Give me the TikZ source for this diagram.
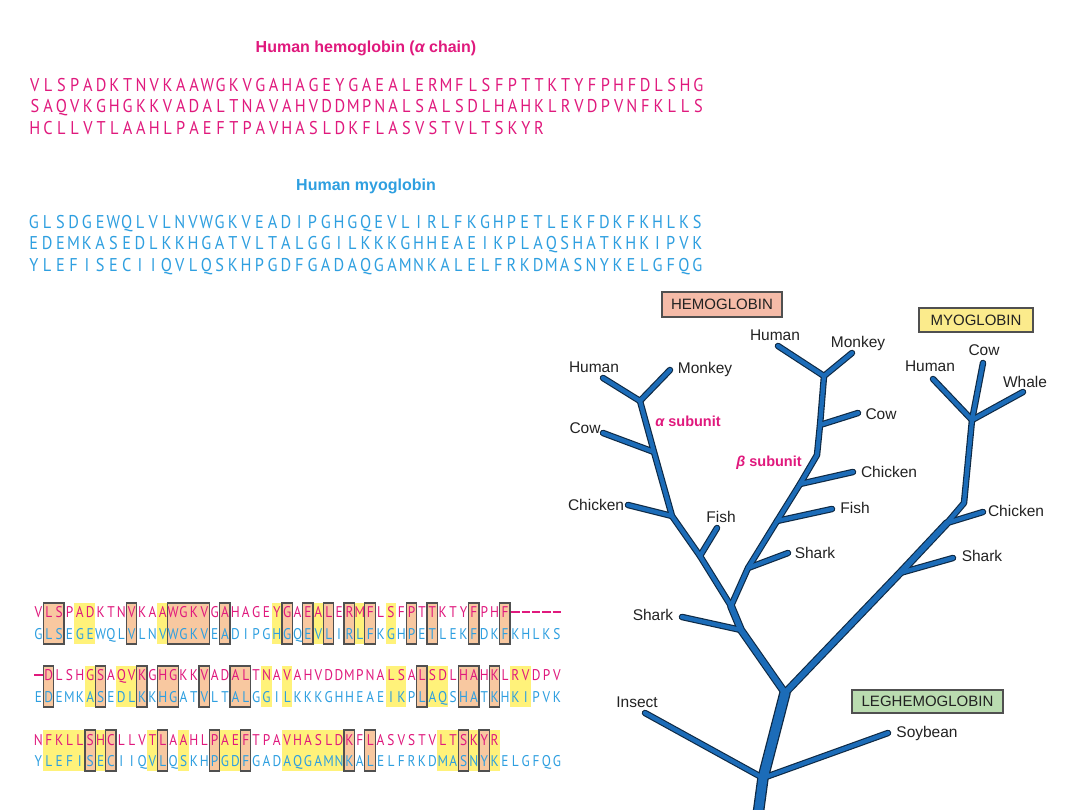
\documentclass[tikz,border=0pt]{standalone}
\usepackage{fontspec}
\setmainfont{Liberation Sans}
\newfontfamily\seqfont[FakeStretch=0.88]{PT Sans}
\newfontfamily\alnfont[FakeStretch=0.86]{PT Sans}
\definecolor{hb}{HTML}{E0197D}
\definecolor{mb}{HTML}{2E9FE0}
\definecolor{hly}{HTML}{FFF27A}
\definecolor{peach}{HTML}{F8C8A0}
\definecolor{bxline}{HTML}{505050}
\definecolor{treeblue}{HTML}{1C6CB8}
\definecolor{treedark}{HTML}{0E2944}
\definecolor{txt}{HTML}{222222}
\definecolor{hemofill}{HTML}{F5BBA8}
\definecolor{myofill}{HTML}{FBEB8C}
\definecolor{legfill}{HTML}{BADCB0}
\newlength\cellw
\makeatletter
\def\cells#1{\cells@i#1\relax}
\def\cells@i#1{\ifx\relax#1\else\cells@c{#1}\expandafter\cells@i\fi}
\def\cells@c#1{\if-#1\makebox[\cellw][c]{\rule[0.32em]{0.8\cellw}{0.09em}}\else\makebox[\cellw][c]{#1}\fi}
\makeatother
\newcommand\hl[3]{\fill[hly] ({33+10.37*(#2-1)},#1) rectangle ({33+10.37*#3},{#1+41});}
\newcommand\bx[3]{\draw[bxs] ({33+10.37*(#2-1)},#1) rectangle ({33+10.37*#3},{#1+41});}
\newcommand\drawtree[4]{%
 \begin{scope}[draw=#4, line cap=round, line join=round]
 \draw[line width=#1] (aH) -- (aJ1) -- (aM);
 \draw[line width=#1] (aC) -- (aJ2);
 \draw[line width=#1] (aCh) -- (aJ3);
 \draw[line width=#1] (aF) -- (aJ4);
 \draw[line width=#1] (aS) -- (aJ5);
 \draw[line width=#1] (bH) -- (bJ1) -- (bM);
 \draw[line width=#1] (bC) -- (bJ2);
 \draw[line width=#1] (bCh) -- (bJ3);
 \draw[line width=#1] (bF) -- (bJ4);
 \draw[line width=#1] (bS) -- (bJ5);
 \draw[line width=#1] (mH) -- (mJ1) -- (mW);
 \draw[line width=#1] (mC) -- (mJ1);
 \draw[line width=#1] (mCh) -- (mJ2);
 \draw[line width=#1] (mS) -- (mJ3);
 \draw[line width=#1] (ins) -- (R2) -- (soy);
 \draw[line width=#1] (aJ1) -- (aJ2) -- (aJ3) -- (aJ4) -- (bJ);
 \draw[line width=#1] (bJ1) -- (bJ2) -- (bB) -- (bJ3) -- (bJ4) -- (bJ5) -- (bJ);
 \draw[line width=#1] (mJ1) -- (mB) -- (mJ2);
 \draw[line width=#2] (bJ) -- (aJ5) -- (R1);
 \draw[line width=#2] (mJ2) -- (mJ3) -- (R1);
 \draw[line width=#3] (R1) -- (R2) -- (Rb);
 \end{scope}}
\tikzset{
 seqtop/.style={anchor=base west, inner sep=0, font=\seqfont\fontsize{18.5}{18.5}\selectfont},
 seqaln/.style={anchor=base west, inner sep=0, font=\alnfont\fontsize{15.5}{15.5}\selectfont},
 ttl/.style={inner sep=0, text=hb, font=\bfseries\fontsize{16}{16}\selectfont},
 ttlb/.style={inner sep=0, text=mb, font=\bfseries\fontsize{16}{16}\selectfont},
 sub/.style={inner sep=0, text=hb, text height=10.5pt, text depth=0pt, font=\bfseries\fontsize{14.5}{14.5}\selectfont},
 lab/.style={inner sep=0, text=txt, text height=11pt, text depth=0pt, font=\fontsize{15.5}{15.5}\selectfont},
 fam/.style={draw=bxline, line width=1.2pt, inner sep=0, text=txt, text height=10.8pt, text depth=0pt, font=\fontsize{15}{15}\selectfont},
 bxs/.style={fill=peach, draw=bxline, line width=1.3pt}
}
\begin{document}
\begin{tikzpicture}[x=1pt, y=-1pt]
\useasboundingbox[fill=white] (0,0) rectangle (1080,810);
% ---- top sequences
\node[ttl] (t1) at (366,48) {Human hemoglobin ({\itshape α} chain)};
\node[seqtop, text=hb] (h1) at (28,91.5) {\setlength\cellw{13.27pt}\cells{VLSPADKTNVKAAWGKVGAHAGEYGAEALERMFLSFPTTKTYFPHFDLSHG}};
\node[seqtop, text=hb] (h2) at (28,112.5) {\setlength\cellw{13.27pt}\cells{SAQVKGHGKKVADALTNAVAHVDDMPNALSALSDLHAHKLRVDPVNFKLLS}};
\node[seqtop, text=hb] (h3) at (28,134.5) {\setlength\cellw{13.27pt}\cells{HCLLVTLAAHLPAEFTPAVHASLDKFLASVSTVLTSKYR}};
\node[ttlb] (t2) at (366,186) {Human myoglobin};
\node[seqtop, text=mb] (m1) at (27,228.5) {\setlength\cellw{13.27pt}\cells{GLSDGEWQLVLNVWGKVEADIPGHGQEVLIRLFKGHPETLEKFDKFKHLKS}};
\node[seqtop, text=mb] (m2) at (27,249.5) {\setlength\cellw{13.27pt}\cells{EDEMKASEDLKKHGATVLTALGGILKKKGHHEAEIKPLAQSHATKHKIPVK}};
\node[seqtop, text=mb] (m3) at (27,271.5) {\setlength\cellw{13.27pt}\cells{YLEFISECIIQVLQSKHPGDFGADAQGAMNKALELFRKDMASNYKELGFQG}};
% ---- alignment highlights
\hl{603}{5}{6} \hl{603}{13}{13} \hl{603}{24}{24} \hl{603}{28}{28} \hl{603}{32}{32} \hl{603}{35}{35}
\bx{603}{2}{3} \bx{603}{10}{10} \bx{603}{14}{17} \bx{603}{19}{19} \bx{603}{25}{25} \bx{603}{27}{27}
\bx{603}{29}{29} \bx{603}{31}{31} \bx{603}{33}{33} \bx{603}{37}{37} \bx{603}{39}{39} \bx{603}{43}{43} \bx{603}{46}{46}
\hl{666}{6}{6} \hl{666}{9}{10} \hl{666}{23}{23} \hl{666}{25}{25} \hl{666}{35}{36} \hl{666}{39}{40} \hl{666}{47}{48}
\bx{666}{2}{2} \bx{666}{7}{7} \bx{666}{11}{11} \bx{666}{13}{14} \bx{666}{17}{17} \bx{666}{20}{21}
\bx{666}{38}{38} \bx{666}{42}{43} \bx{666}{45}{45}
\hl{730}{2}{5} \hl{730}{7}{7} \hl{730}{12}{12} \hl{730}{15}{15} \hl{730}{19}{20} \hl{730}{25}{30}
\hl{730}{40}{41} \hl{730}{43}{43} \hl{730}{45}{45}
\bx{730}{6}{6} \bx{730}{8}{8} \bx{730}{13}{13} \bx{730}{18}{18} \bx{730}{21}{21} \bx{730}{31}{31}
\bx{730}{33}{33} \bx{730}{42}{42} \bx{730}{44}{44}
% ---- alignment text
\node[seqaln, text=hb] (a1) at (33,617.5) {\setlength\cellw{10.37pt}\cells{VLSPADKTNVKAAWGKVGAHAGEYGAEALERMFLSFPTTKTYFPHF-----}};
\node[seqaln, text=mb] (b1) at (33,639.5) {\setlength\cellw{10.37pt}\cells{GLSEGEWQLVLNVWGKVEADIPGHGQEVLIRLFKGHPETLEKFDKFKHLKS}};
\node[seqaln, text=hb] (a2) at (33,680.5) {\setlength\cellw{10.37pt}\cells{-DLSHGSAQVKGHGKKVADALTNAVAHVDDMPNALSALSDLHAHKLRVDPV}};
\node[seqaln, text=mb] (b2) at (33,702.5) {\setlength\cellw{10.37pt}\cells{EDEMKASEDLKKHGATVLTALGGILKKKGHHEAEIKPLAQSHATKHKIPVK}};
\node[seqaln, text=hb] (a3) at (33,745.5) {\setlength\cellw{10.37pt}\cells{NFKLLSHCLLVTLAAHLPAEFTPAVHASLDKFLASVSTVLTSKYR}};
\node[seqaln, text=mb] (b3) at (33,766.5) {\setlength\cellw{10.37pt}\cells{YLEFISECIIQVLQSKHPGDFGADAQGAMNKALELFRKDMASNYKELGFQG}};
% ---- tree coordinates
\coordinate (aH) at (603,378); \coordinate (aM) at (670,370); \coordinate (aJ1) at (640,401);
\coordinate (aC) at (603,433); \coordinate (aJ2) at (654,452);
\coordinate (aCh) at (628,505); \coordinate (aJ3) at (672,516);
\coordinate (aF) at (717,528); \coordinate (aJ4) at (700,556);
\coordinate (bJ) at (731,606);
\coordinate (aS) at (682,617); \coordinate (aJ5) at (741,630);
\coordinate (R1) at (785,693);
\coordinate (bH) at (778,346); \coordinate (bM) at (852,353); \coordinate (bJ1) at (824,376);
\coordinate (bC) at (858,413); \coordinate (bJ2) at (820,425);
\coordinate (bB) at (817,455);
\coordinate (bCh) at (853,472); \coordinate (bJ3) at (800,484);
\coordinate (bF) at (832,509); \coordinate (bJ4) at (777,521);
\coordinate (bS) at (788,553); \coordinate (bJ5) at (748,568);
\coordinate (mH) at (933,379); \coordinate (mC) at (983,363); \coordinate (mW) at (1023,392); \coordinate (mJ1) at (972,420);
\coordinate (mB) at (964,503);
\coordinate (mCh) at (983,512); \coordinate (mJ2) at (947,523);
\coordinate (mS) at (953,558); \coordinate (mJ3) at (900,573);
\coordinate (R2) at (763,778); \coordinate (Rb) at (758,815);
\coordinate (ins) at (645,713); \coordinate (soy) at (888,733);
\drawtree{6.5pt}{8pt}{11.5pt}{treedark}
\drawtree{4.2pt}{5.7pt}{9pt}{treeblue}
% ---- tree labels
\node[fam, fill=hemofill, minimum width=120pt, minimum height=25pt] (HEMO) at (722,304.5) {HEMOGLOBIN};
\node[fam, fill=myofill, minimum width=114pt, minimum height=24pt] (MYO) at (976,320) {MYOGLOBIN};
\node[fam, fill=legfill, minimum width=151pt, minimum height=23pt] (LEG) at (927.5,701.5) {LEGHEMOGLOBIN};
\node[sub] (asub) at (688,421) {{\itshape α} subunit};
\node[sub] (bsub) at (769,461) {{\itshape β} subunit};
\node[lab] (laH) at (594,367) {Human};
\node[lab] (laM) at (705,368) {Monkey};
\node[lab] (laC) at (585,428) {Cow};
\node[lab] (laCh) at (596,505) {Chicken};
\node[lab] (laF) at (721,517) {Fish};
\node[lab] (laS) at (653,615) {Shark};
\node[lab] (lbH) at (775,335) {Human};
\node[lab] (lbM) at (858,342) {Monkey};
\node[lab] (lbC) at (881,414) {Cow};
\node[lab] (lbCh) at (889,472) {Chicken};
\node[lab] (lbF) at (855,508) {Fish};
\node[lab] (lbS) at (815,553) {Shark};
\node[lab] (lmH) at (930,366) {Human};
\node[lab] (lmC) at (984,350) {Cow};
\node[lab] (lmW) at (1025,382) {Whale};
\node[lab] (lmCh) at (1016,511) {Chicken};
\node[lab] (lmS) at (982,556) {Shark};
\node[lab] (lins) at (637,702) {Insect};
\node[lab] (lsoy) at (927,732) {Soybean};
\end{tikzpicture}
\end{document}
